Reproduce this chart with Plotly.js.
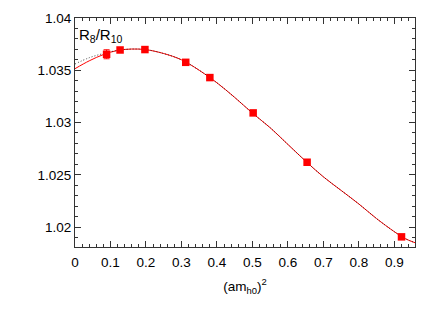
<!DOCTYPE html>
<html>
<head>
<meta charset="utf-8">
<script src="https://cdn.plot.ly/plotly-3.0.1.min.js"></script>
<style>html,body{margin:0;padding:0;background:#fff;}#chart{width:442px;height:309px;}</style>
</head>
<body>
<div id="chart"></div>
<script>
// data points (am_h0)^2 vs R8/R10
const pointX = [0.089, 0.127, 0.197, 0.312, 0.380, 0.502, 0.654, 0.920];
const pointY = [1.03653, 1.03694, 1.03698, 1.03576, 1.0343, 1.03092, 1.0262, 1.01906];
const pointErr = [0.00043, 0.0001, 0.0001, 0.0001, 0.0001, 0.0001, 0.0001, 0.0001];

// fit curve (red solid)
const fitX = [0, 0.04, 0.08, 0.12, 0.16, 0.2, 0.25, 0.3, 0.35, 0.4, 0.45, 0.5, 0.55, 0.6, 0.65, 0.7, 0.75, 0.8, 0.85, 0.9, 0.93, 0.958];
const fitY = [1.03515, 1.0359, 1.0365, 1.0369, 1.03703, 1.03697, 1.0366, 1.0360, 1.0350, 1.0338, 1.0324, 1.0309, 1.0295, 1.0279, 1.0263, 1.0248, 1.0235, 1.0222, 1.0208, 1.01955, 1.0189, 1.0185];

// alternative fit (black dotted)
const fit2X = [0, 0.04, 0.08, 0.12, 0.16, 0.2, 0.25, 0.3, 0.35, 0.4, 0.45, 0.5, 0.55, 0.6, 0.65, 0.7, 0.75, 0.8, 0.85, 0.9, 0.93, 0.958];
const fit2Y = [1.0356, 1.0362, 1.0366, 1.0369, 1.03703, 1.03697, 1.0366, 1.0360, 1.0350, 1.0338, 1.0324, 1.0309, 1.0295, 1.0279, 1.0263, 1.0248, 1.0235, 1.0222, 1.0208, 1.01955, 1.0189, 1.0185];

const xTicks = [0, 0.1, 0.2, 0.3, 0.4, 0.5, 0.6, 0.7, 0.8, 0.9];
const xTickLabels = ['0', '0.1', '0.2', '0.3', '0.4', '0.5', '0.6', '0.7', '0.8', '0.9'];
const yTicks = [1.02, 1.025, 1.03, 1.035, 1.04];
const yTickLabels = ['1.02', '1.025', '1.03', '1.035', '1.04'];

const font = {family: 'Liberation Sans, Arial, sans-serif', size: 13.5, color: '#000'};

const traces = [
  {x: fitX, y: fitY, mode: 'lines', line: {color: '#ff0000', width: 1, shape: 'spline'}, hoverinfo: 'skip'},
  {x: fit2X, y: fit2Y, mode: 'lines', line: {color: '#111', width: 0.8, dash: '1px,2px', shape: 'spline'}, hoverinfo: 'skip'},
  {x: pointX, y: pointY, mode: 'markers', marker: {symbol: 'square', size: 7.5, color: '#ff0000'},
   error_y: {type: 'data', array: pointErr, color: '#ff0000', thickness: 1, width: 3}}
];

const axisCommon = {
  showgrid: false, zeroline: false, showline: true, linecolor: '#333', linewidth: 1,
  mirror: 'allticks', ticks: 'inside', ticklen: 6, tickcolor: '#333', tickwidth: 1,
  tickfont: font
};

const layout = {
  width: 442, height: 309,
  margin: {l: 75, r: 27, t: 18, b: 62},
  paper_bgcolor: '#fff', plot_bgcolor: '#fff',
  showlegend: false,
  font: font,
  xaxis: Object.assign({}, axisCommon, {
    range: [0, 0.958], tickmode: 'array', tickvals: xTicks, ticktext: xTickLabels,
    ticklabelstandoff: 3,
    minor: {ticks: 'inside', dtick: 0.02, ticklen: 3, tickcolor: '#333', tickwidth: 1},
    title: {text: '(am<sub>h0</sub>)<sup>2</sup>', font: font, standoff: 12}
  }),
  yaxis: Object.assign({}, axisCommon, {
    range: [1.01809, 1.04], tickmode: 'array', tickvals: yTicks, ticktext: yTickLabels,
    minor: {ticks: 'inside', dtick: 0.001, ticklen: 3, tickcolor: '#333', tickwidth: 1}
  }),
  annotations: [{
    xref: 'paper', yref: 'paper', x: 0.005, y: 0.975, xanchor: 'left', yanchor: 'top',
    text: 'R<sub>8</sub>/R<sub>10</sub>', showarrow: false, font: {family: font.family, size: 15, color: '#000'}
  }]
};

Plotly.newPlot('chart', traces, layout, {staticPlot: true});
</script>
</body>
</html>
